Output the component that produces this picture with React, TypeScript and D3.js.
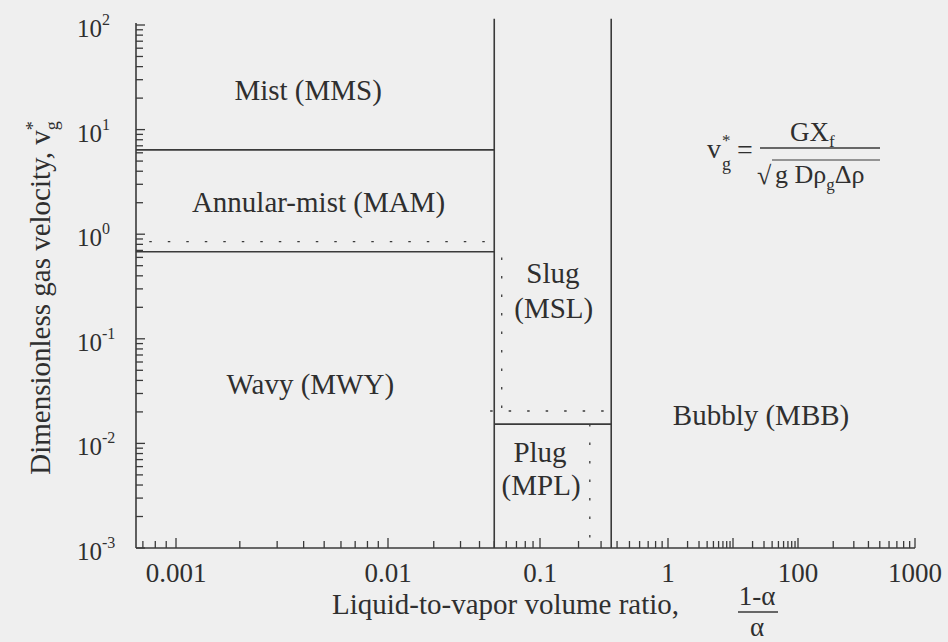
import React from "react";
import * as d3 from "d3";

const W = 948;
const H = 642;

// Axis ticks
const xAxisMin = 0.00065;
const xTickValues = [0.001, 0.01, 0.1, 1, 100, 1000];
const xTickLabels = ["0.001", "0.01", "0.1", "1", "100", "1000"];
const yTickValues = [1e-3, 1e-2, 1e-1, 1e0, 1e1, 1e2];
const yTickExponents = ["-3", "-2", "-1", "0", "1", "2"];

// Regime boundaries: x = (1-α)/α, y = v*g
const leftBoundaryX = 0.05;
const rightBoundaryX = 0.36;
const boundaryTopY = 115;
const mistBoundaryY = 6.4;
const annularBoundaryY = 0.68;
const annularDottedY = 0.85;
const annularDottedStartX = 0.00075;
const plugBoundaryY = 0.0153;
const slugDottedY = 0.0204;
const slugDottedStartX = 0.047;
const slugDottedX = 0.056;
const slugDottedTopY = 0.6;
const plugDottedX = 0.245;
const plugDottedBottomY = 0.0012;

type Seg = [number, number, number, number];

const solidBoundaries: Seg[] = [
  [xAxisMin, mistBoundaryY, leftBoundaryX, mistBoundaryY],
  [xAxisMin, annularBoundaryY, leftBoundaryX, annularBoundaryY],
  [leftBoundaryX, 1e-3, leftBoundaryX, boundaryTopY],
  [rightBoundaryX, 1e-3, rightBoundaryX, boundaryTopY],
  [leftBoundaryX, plugBoundaryY, rightBoundaryX, plugBoundaryY],
];

const dottedBoundaries: Seg[] = [
  [annularDottedStartX, annularDottedY, leftBoundaryX, annularDottedY],
  [slugDottedX, slugDottedTopY, slugDottedX, slugDottedY],
  [slugDottedStartX, slugDottedY, rightBoundaryX, slugDottedY],
  [plugDottedX, plugBoundaryY, plugDottedX, plugDottedBottomY],
];

// Regime names and their anchor points (x, y in data units)
const regimeLines = [
  "Mist (MMS)",
  "Annular-mist (MAM)",
  "Wavy (MWY)",
  "Slug",
  "(MSL)",
  "Plug",
  "(MPL)",
  "Bubbly (MBB)",
];
const regimeX = [0.0042, 0.0047, 0.0043, 0.126, 0.128, 0.1, 0.102, 27];
const regimeY = [19.2, 1.62, 0.0295, 0.34, 0.157, 0.0066, 0.0032, 0.0149];

const FONT = "'Liberation Serif', 'Times New Roman', Times, serif";
const INK = "#2f2f2f";
const LINE = "#3a3a3a";

export default function App() {
  // Decade anchors of the horizontal axis (pixel positions)
  const xAnchors = [136, 176, 388, 540, 668, 798, 915];
  const x = d3
    .scaleLog()
    .domain([xAxisMin, ...xTickValues])
    .range(xAnchors);
  const y = d3.scaleLog().domain([1e-3, 1e2]).range([548, 25]);

  const axisX0 = x(xAxisMin);
  const axisX1 = x(1000);
  const axisY0 = y(1e-3);
  const axisY1 = y(1e2);

  const xMinor = x.ticks().filter((v) => v >= xAxisMin * 1.05 && v <= 1000);
  const yMinor = y.ticks();
  const isDecade = (v: number) =>
    Math.abs(Math.log10(v) - Math.round(Math.log10(v))) < 1e-9;

  return (
    <svg
      width={W}
      height={H}
      viewBox={`0 0 ${W} ${H}`}
      style={{ position: "absolute", left: 0, top: 0, display: "block" }}
      fontFamily={FONT}
    >
      <rect x={0} y={0} width={W} height={H} fill="#efefef" />

      {/* axes */}
      <line x1={axisX0} y1={axisY0} x2={axisX1} y2={axisY0} stroke={LINE} strokeWidth={1.6} />
      <line x1={axisX0} y1={axisY0} x2={axisX0} y2={axisY1 - 2} stroke={LINE} strokeWidth={1.6} />

      {/* x ticks */}
      {xMinor.map((v, i) => (
        <line
          key={"xt" + i}
          x1={x(v)}
          x2={x(v)}
          y1={axisY0}
          y2={axisY0 - (isDecade(v) ? 10 : 7)}
          stroke={LINE}
          strokeWidth={1.3}
        />
      ))}
      {xTickValues.map((v, i) => (
        <text
          key={"xl" + i}
          x={x(v)}
          y={axisY0 + 34}
          textAnchor="middle"
          fontSize={27}
          fill={INK}
        >
          {xTickLabels[i]}
        </text>
      ))}

      {/* y ticks */}
      {yMinor.map((v, i) => (
        <line
          key={"yt" + i}
          x1={axisX0}
          x2={axisX0 + (isDecade(v) ? 9 : 7)}
          y1={y(v)}
          y2={y(v)}
          stroke={LINE}
          strokeWidth={1.3}
        />
      ))}
      {yTickValues.map((v, i) => (
        <text key={"yl" + i} x={77} y={y(v) + 12} fontSize={25} fill={INK}>
          10
          <tspan fontSize={16} dy={-12}>
            {yTickExponents[i]}
          </tspan>
        </text>
      ))}

      {/* regime boundaries */}
      {solidBoundaries.map((s, i) => (
        <line
          key={"sb" + i}
          x1={x(s[0])}
          y1={y(s[1])}
          x2={x(s[2])}
          y2={y(s[3])}
          stroke={LINE}
          strokeWidth={1.6}
        />
      ))}
      {dottedBoundaries.map((s, i) => (
        <line
          key={"db" + i}
          x1={x(s[0])}
          y1={y(s[1])}
          x2={x(s[2])}
          y2={y(s[3])}
          stroke={LINE}
          strokeWidth={1.3}
          strokeDasharray="2.5 16"
        />
      ))}

      {/* regime names */}
      {regimeLines.map((t, i) => (
        <text
          key={"rg" + i}
          x={x(regimeX[i])}
          y={y(regimeY[i])}
          textAnchor="middle"
          fontSize={29}
          fill={INK}
        >
          {t}
        </text>
      ))}

      {/* definition of v*g */}
      <g fill={INK}>
        <text x={707} y={158} fontSize={28}>v</text>
        <text x={722} y={146} fontSize={17}>*</text>
        <text x={722} y={170} fontSize={18}>g</text>
        <text x={737} y={159} fontSize={28}>=</text>
        <line x1={760} x2={880} y1={148} y2={148} stroke={LINE} strokeWidth={1.3} />
        <text x={790} y={141} fontSize={27}>
          GX
          <tspan fontSize={17} dy={6}>f</tspan>
        </text>
        <text x={757} y={184} fontSize={26}>√</text>
        <line x1={772} x2={880} y1={160} y2={160} stroke={LINE} strokeWidth={1.2} />
        <text x={775} y={183} fontSize={26}>
          g Dρ
          <tspan fontSize={17} dy={7}>g</tspan>
          <tspan dy={-7}>Δρ</tspan>
        </text>
      </g>

      {/* axis titles */}
      <text x={332} y={614} fontSize={29} fill={INK}>
        Liquid-to-vapor volume ratio,
      </text>
      <g fill={INK} fontSize={27}>
        <text x={757} y={605} textAnchor="middle">1-α</text>
        <line x1={738} x2={778} y1={612} y2={612} stroke={LINE} strokeWidth={1.3} />
        <text x={757} y={636} textAnchor="middle">α</text>
      </g>
      <text
        transform="translate(50, 298) rotate(-90)"
        textAnchor="middle"
        fontSize={29}
        fill={INK}
      >
        Dimensionless gas velocity, v
        <tspan fontSize={18} dy={-11}>*</tspan>
        <tspan fontSize={18} dx={-9} dy={19}>g</tspan>
      </text>
    </svg>
  );
}
